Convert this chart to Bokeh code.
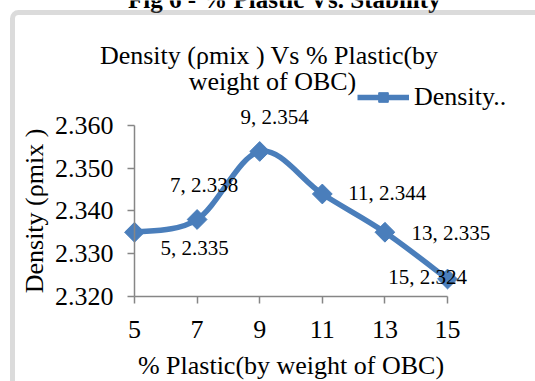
import numpy as np
from bokeh.plotting import figure
from bokeh.models import (Range1d, FixedTicker, NumeralTickFormatter, ColumnDataSource,
                          LabelSet, Label, Legend, LegendItem, BoxAnnotation)
from bokeh.embed import file_html
from bokeh.resources import INLINE
from bokeh.core.properties import value

# ---- data ----
plastic_pct = [5, 7, 9, 11, 13, 15]
density = [2.335, 2.338, 2.354, 2.344, 2.335, 2.324]
x_ticks = [5, 7, 9, 11, 13, 15]
y_ticks = [2.320, 2.330, 2.340, 2.350, 2.360]
series_name = "Density.."
chart_title_1 = "Density (ρmix ) Vs  % Plastic(by"
chart_title_2 = "weight of OBC)"
x_title = "% Plastic(by weight of OBC)"
y_title = "Density (ρmix )"
fig_caption = "Fig 6 - % Plastic Vs. Stability"

# data-label placement (screen px offsets from each point)
label_dx = [60, 7, 15, 65, 66, -20]
label_dy = [-16, 34, 34, 1, -1, 2]

FONT = "Liberation Serif"
BLUE = "#4a7ebb"
GRAY = "#868686"
W, H = 535, 381

# the plotting frame fills the whole canvas; axes are pinned at x=5 and y=2.320
p = figure(width=W, height=H, output_backend="svg", toolbar_location=None,
           x_range=Range1d(0.719, 17.81), y_range=Range1d(2.2999, 2.3895),
           min_border=0, min_border_left=0, min_border_right=0,
           min_border_top=0, min_border_bottom=0)
p.outline_line_color = None
p.xgrid.visible = False
p.ygrid.visible = False

# smoothed line (Catmull-Rom style bezier through the data points)
xs = np.array(plastic_pct, dtype=float)
ys = np.array(density, dtype=float)
n = len(xs)
prev_i = np.r_[0, np.arange(n - 1)]
next_i = np.r_[np.arange(1, n), n - 1]
tx = (xs[next_i] - xs[prev_i]) / 6.0
ty = (ys[next_i] - ys[prev_i]) / 6.0
bez_src = ColumnDataSource(dict(
    x0=xs[:-1], y0=ys[:-1], x1=xs[1:], y1=ys[1:],
    cx0=xs[:-1] + tx[:-1], cy0=ys[:-1] + ty[:-1],
    cx1=xs[1:] - tx[1:], cy1=ys[1:] - ty[1:]))
bez = p.bezier(x0="x0", y0="y0", x1="x1", y1="y1", cx0="cx0", cy0="cy0",
               cx1="cx1", cy1="cy1", source=bez_src, line_color=BLUE, line_width=5.5)

src = ColumnDataSource(dict(
    x=plastic_pct, y=density,
    text=[f"{a}, {b:.3f}" for a, b in zip(plastic_pct, density)],
    dx=label_dx, dy=label_dy))
sc = p.scatter(x="x", y="y", source=src, marker="square", angle=np.pi / 4, size=14,
               fill_color=BLUE, line_color=BLUE)

labels = LabelSet(x="x", y="y", text="text", x_offset="dx", y_offset="dy", source=src,
                  text_font=value(FONT), text_font_size="21px", text_color="black",
                  text_align="center", text_baseline="middle")
p.add_layout(labels)

# axes
xa = p.xaxis[0]
xa.ticker = FixedTicker(ticks=x_ticks)
xa.bounds = (5, 15)
xa.fixed_location = 2.320
ya = p.yaxis[0]
ya.ticker = FixedTicker(ticks=y_ticks)
ya.bounds = (2.320, 2.360)
ya.formatter = NumeralTickFormatter(format="0.000")
ya.fixed_location = 5
for ax in (xa, ya):
    ax.axis_line_color = GRAY
    ax.axis_line_width = 1.5
    ax.major_tick_line_color = GRAY
    ax.major_tick_line_width = 1.5
    ax.major_tick_out = 7
    ax.major_tick_in = 0
    ax.minor_tick_line_color = None
    ax.major_label_text_font = FONT
    ax.major_label_text_font_size = "26px"
    ax.major_label_text_color = "black"
    ax.axis_label_text_font = FONT
    ax.axis_label_text_font_size = "26px"
    ax.axis_label_text_font_style = "normal"
    ax.axis_label_text_color = "black"
xa.axis_label = x_title
ya.axis_label = y_title
xa.major_label_standoff = 18
xa.axis_label_standoff = 9
ya.major_label_standoff = 14
ya.axis_label_standoff = 3

# legend
legend = Legend(items=[LegendItem(label=series_name, renderers=[bez, sc])],
                location=(357, 269), border_line_alpha=0, background_fill_alpha=0,
                padding=0, margin=0, spacing=0, glyph_width=52, glyph_height=24,
                label_standoff=5, label_text_font=FONT, label_text_font_size="26px",
                label_text_color="black")
p.add_layout(legend)

# chart title (two lines)
for txt, yy in ((chart_title_1, H - 55), (chart_title_2, H - 81)):
    p.add_layout(Label(x=272, y=yy, x_units="screen", y_units="screen", text=txt,
                       text_align="center", text_baseline="alphabetic",
                       text_font=FONT, text_font_size="26px", text_color="black"))

# partially visible figure caption above the chart box (cut off as in the source)
p.add_layout(Label(x=284, y=H + 1, x_units="screen", y_units="screen", text=fig_caption,
                   text_align="center", text_baseline="alphabetic", text_font=FONT,
                   text_font_style="bold", text_font_size="25px", text_color="black"))

# chart box border
p.add_layout(BoxAnnotation(left=12, right=W + 60, top=H - 12, bottom=-60,
                           left_units="screen", right_units="screen",
                           top_units="screen", bottom_units="screen",
                           fill_alpha=0, line_color="#888888", line_width=5,
                           border_radius=6))

open("out.html", "w").write(file_html(p, INLINE))
